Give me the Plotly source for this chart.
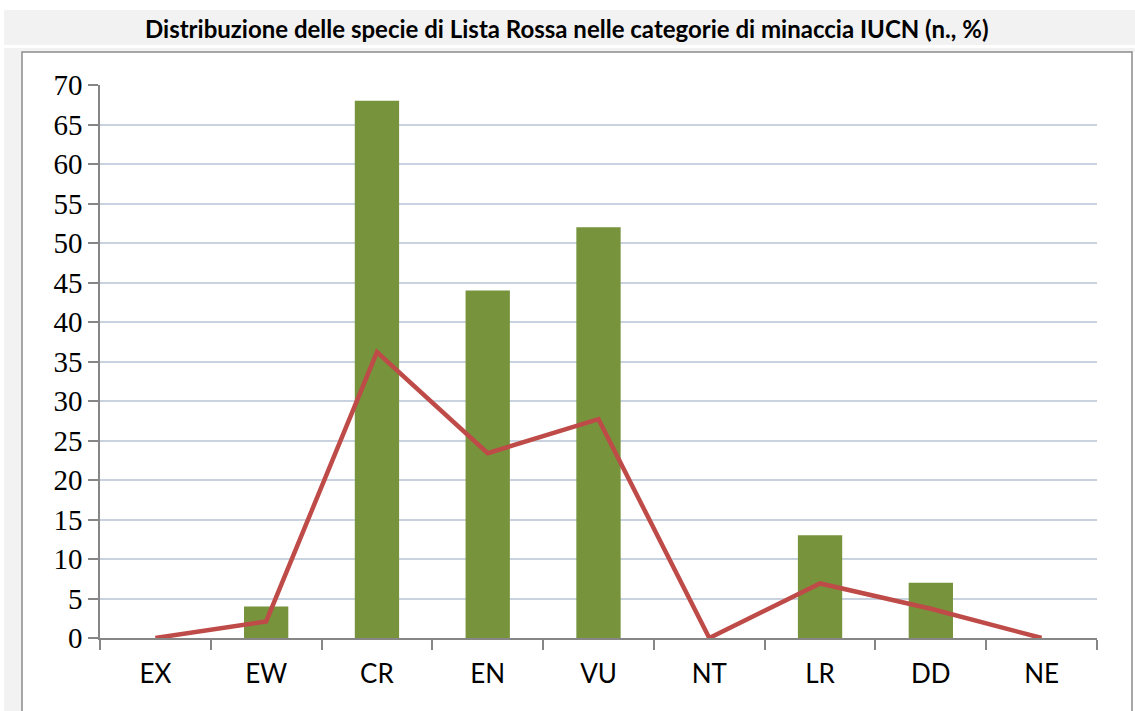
import plotly.graph_objects as go

categories = ["EX", "EW", "CR", "EN", "VU", "NT", "LR", "DD", "NE"]
counts = [0, 4, 68, 44, 52, 0, 13, 7, 0]
percent = [0, 2.1, 36.2, 23.4, 27.7, 0, 6.9, 3.7, 0]
y_ticks = list(range(0, 71, 5))
title_text = "Distribuzione delle specie di Lista Rossa nelle categorie di minaccia IUCN (n., %)"

W, H = 1135, 711
L, R, T, B = 100, 38, 85, 73
pw, ph = W - L - R, H - T - B

def px(x):
    return (x - L) / pw

def py(y):
    return 1 - (y - T) / ph

fig = go.Figure()
fig.add_trace(go.Bar(x=categories, y=counts, marker=dict(color="#77933C", line=dict(width=0)),
                     width=0.4, name="n."))
fig.add_trace(go.Scatter(x=categories, y=percent, mode="lines",
                         line=dict(color="#BE4B48", width=4.5), name="%"))

shapes = [
    dict(type="rect", xref="paper", yref="paper", x0=px(4), x1=px(1135), y0=py(45), y1=py(10),
         fillcolor="#F2F2F2", line=dict(width=0), layer="below"),
    dict(type="rect", xref="paper", yref="paper", x0=px(4), x1=px(22), y0=py(715), y1=py(48),
         fillcolor="#F2F2F2", line=dict(width=0), layer="below"),
    dict(type="rect", xref="paper", yref="paper", x0=px(4), x1=px(1135), y0=py(52), y1=py(48),
         fillcolor="#F2F2F2", line=dict(width=0), layer="below"),
    dict(type="rect", xref="paper", yref="paper", x0=px(22), x1=px(1132), y0=py(720), y1=py(52),
         fillcolor="white", line=dict(color="#8C8C8C", width=1.5), layer="below"),
]

fig.update_layout(
    width=W, height=H,
    margin=dict(l=L, r=R, t=T, b=B),
    paper_bgcolor="white", plot_bgcolor="rgba(0,0,0,0)",
    showlegend=False,
    shapes=shapes,
    annotations=[dict(text="<b>" + title_text + "</b>", xref="paper", yref="paper",
                      x=px(567), y=py(28), xanchor="center", yanchor="middle", showarrow=False,
                      font=dict(family="Lato", size=24, color="black"))],
    xaxis=dict(type="category", range=[-0.5, 8.5], showgrid=False, showline=True,
               linecolor="#868686", linewidth=1.5, ticks="outside", tickson="boundaries",
               ticklen=10, tickcolor="#868686", tickwidth=1.5,
               tickfont=dict(family="Lato", size=26, color="black"), ticklabelstandoff=12),
    yaxis=dict(range=[0, 70], tickvals=y_ticks, showgrid=True, gridcolor="#C9D3E0", gridwidth=1.5,
               showline=True, linecolor="#868686", linewidth=1.5, ticks="outside", ticklen=10,
               tickcolor="#868686", tickwidth=1.5, zeroline=False, ticksuffix="\u00a0",
               tickfont=dict(family="Liberation Serif", size=29, color="black")),
)

fig.write_html("out.html", config={"displayModeBar": False},
               post_script="document.body.style.margin='0';document.body.style.overflow='hidden';")
